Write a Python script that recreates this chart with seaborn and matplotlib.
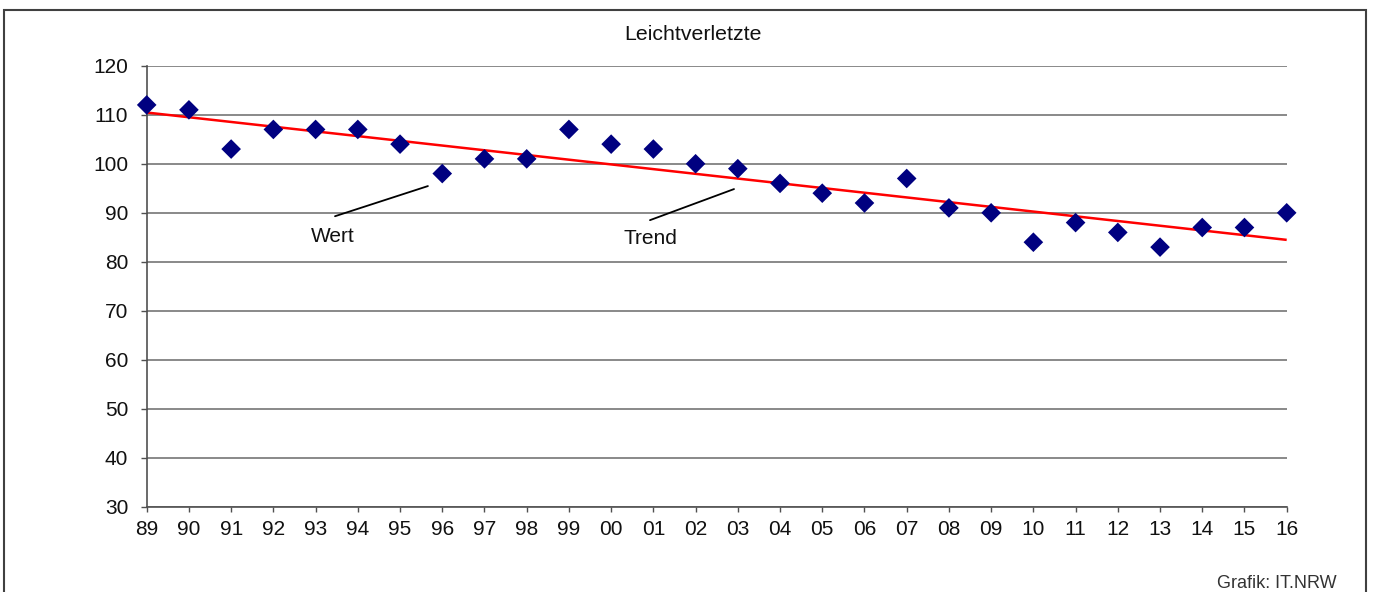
import matplotlib
matplotlib.use("Agg")
import matplotlib.pyplot as plt
from matplotlib.patches import Rectangle
import seaborn as sns
import pandas as pd

years = ["89", "90", "91", "92", "93", "94", "95", "96", "97", "98", "99", "00", "01", "02",
         "03", "04", "05", "06", "07", "08", "09", "10", "11", "12", "13", "14", "15", "16"]
values = [112, 111, 103, 107, 107, 107, 104, 98, 101, 101, 107, 104, 103, 100,
          99, 96, 94, 92, 97, 91, 90, 84, 88, 86, 83, 87, 87, 90]
y_ticks = [30, 40, 50, 60, 70, 80, 90, 100, 110, 120]
title = "Leichtverletzte"
source = "Grafik: IT.NRW"

sns.set_theme(style="white")
plt.rcParams["font.family"] = ["Liberation Sans", "DejaVu Sans"]

df = pd.DataFrame({"pos": range(len(years)), "year": years, "value": values})

W, H = 1373, 592
fig = plt.figure(figsize=(W / 100, H / 100), dpi=100)
ax = fig.add_axes([146.7 / W, 1 - 507 / H, (1286.7 - 146.7) / W, (507 - 65.7) / H])

# grid
ax.set_ylim(30, 120)
ax.set_xlim(0, len(years) - 1)
ax.set_yticks(y_ticks)
ax.yaxis.grid(True, color="#808080", lw=1.3, zorder=0)
ax.set_axisbelow(True)

# trend line (linear regression)
sns.regplot(data=df, x="pos", y="value", scatter=False, ci=None, ax=ax,
            color="#ff0000", line_kws=dict(lw=1.8, zorder=2, solid_capstyle="butt"))

# values
sns.scatterplot(data=df, x="pos", y="value", marker="D", s=100, color="#000080",
                edgecolor="none", ax=ax, zorder=3, clip_on=False)

ax.set_xticks(range(len(years)))
ax.set_xticklabels(years)
ax.set_xlabel("")
ax.set_ylabel("")

for s in ["top", "right"]:
    ax.spines[s].set_visible(False)
for s in ["left", "bottom"]:
    ax.spines[s].set_color("#505050")
    ax.spines[s].set_linewidth(1.2)

ax.tick_params(axis="y", which="major", left=True, length=4.3, width=1.0, color="#505050",
               pad=9.0, labelsize=15, labelcolor="#111111")
ax.tick_params(axis="x", which="major", bottom=True, length=3.6, width=1.0, color="#505050",
               pad=6.0, labelsize=15, labelcolor="#111111")

# annotations
ax.annotate("", xy=(6.66, 95.45), xytext=(4.46, 89.3),
            arrowprops=dict(arrowstyle="-", color="black", lw=1.3, shrinkA=0, shrinkB=0))
ax.text(4.41, 85.2, "Wert", ha="center", va="center", fontsize=15, color="#111111")
ax.annotate("", xy=(13.91, 94.84), xytext=(11.92, 88.5),
            arrowprops=dict(arrowstyle="-", color="black", lw=1.3, shrinkA=0, shrinkB=0))
ax.text(11.92, 84.8, "Trend", ha="center", va="center", fontsize=15, color="#111111")

# title and source
fig.text(693 / W, 1 - 35 / H, title, ha="center", va="center", fontsize=15.3, color="#111111")
fig.text(1337 / W, 1 - 583 / H, source, ha="right", va="center", fontsize=13, color="#333333")

# frame
fig.patches.append(Rectangle((4 / W, -0.2), (1366 - 4) / W, 1.2 - 10 / H, transform=fig.transFigure,
                             fill=False, edgecolor="#404040", lw=1.5, clip_on=False))

fig.savefig("out.png", dpi=100)
